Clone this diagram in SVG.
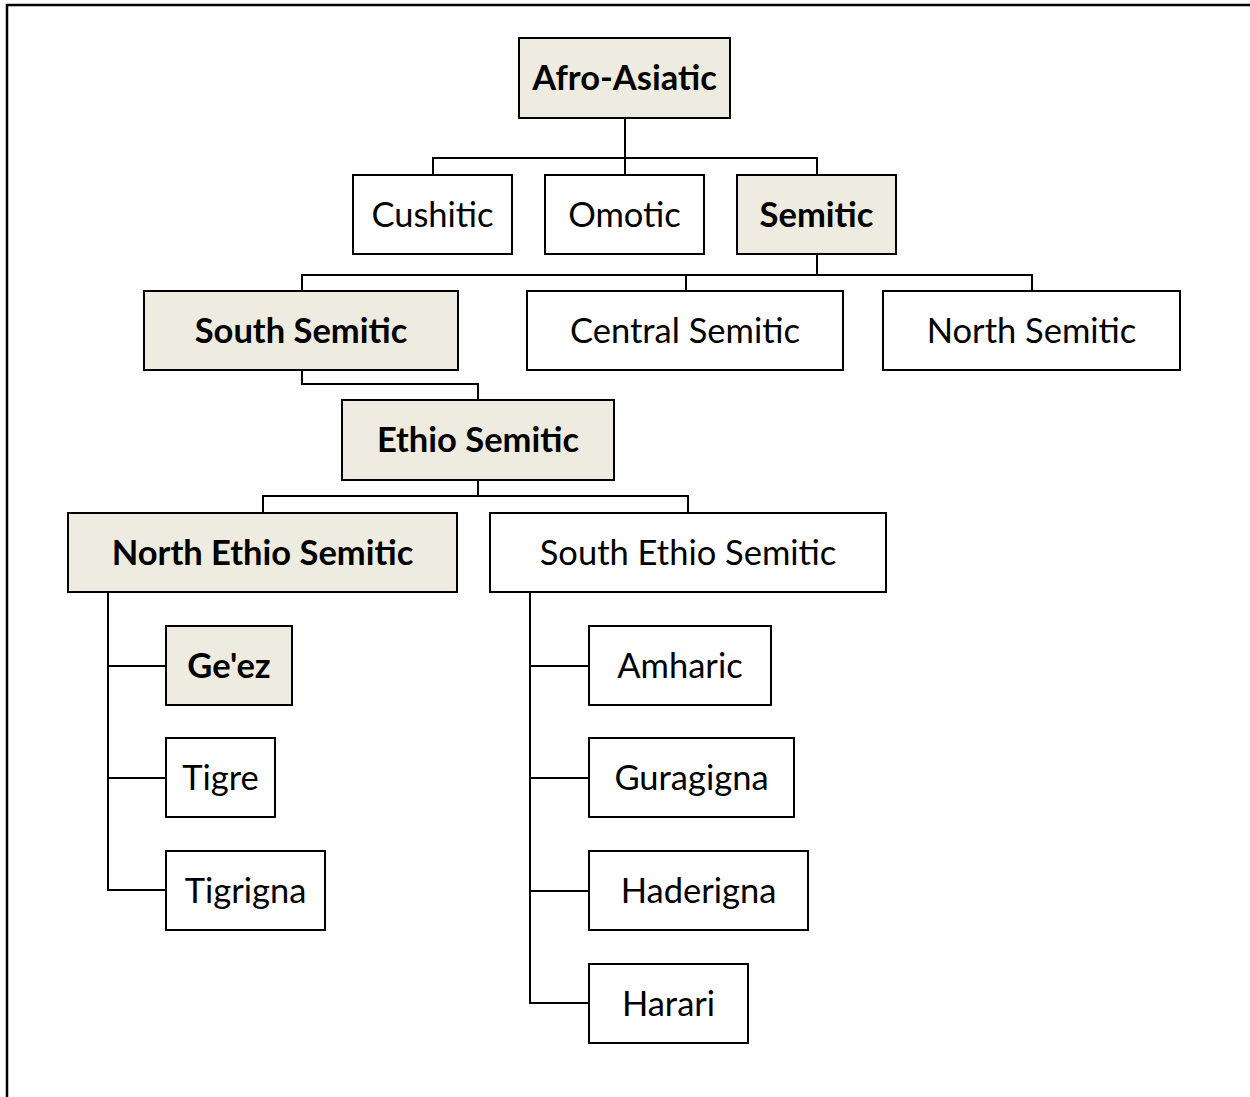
<svg xmlns="http://www.w3.org/2000/svg" width="1250" height="1097" viewBox="0 0 1250 1097">
<style>
.box{fill:#ffffff;stroke:#000;stroke-width:2}
.hl{fill:#EEECE1;stroke:#000;stroke-width:2}
.t{font-family:Lato,"Liberation Sans",sans-serif;font-size:34.5px;fill:#000;text-anchor:middle}
.b{font-weight:bold}
.c{fill:none;stroke:#000;stroke-width:2}
</style>
<rect width="1250" height="1097" fill="#fff"/>
<path d="M7,1097 V5 H1250" fill="none" stroke="#000" stroke-width="2.5"/>
<g id="connectors">
<path class="c" d="M625,118 V158 M433,175 V158 H817 V175 M625,158 V175"/>
<path class="c" d="M817,254 V275 M302,291 V275 H1032 V291 M686,275 V291"/>
<path class="c" d="M302,370 V384 H478 V400"/>
<path class="c" d="M478,480 V496 M263,513 V496 H688 V513"/>
<path class="c" d="M108,592 V890 H166 M108,666 H166 M108,778 H166"/>
<path class="c" d="M530,592 V1003 H589 M530,666 H589 M530,778 H589 M530,891 H589"/>
</g>
<g id="afro-asiatic"><rect class="hl" x="519" y="38" width="211" height="80"/><text class="t b" x="624.5" y="89.5">Afro-Asiatic</text></g>
<g id="cushitic"><rect class="box" x="353" y="175" width="159" height="79"/><text class="t" x="432.5" y="226.5">Cushitic</text></g>
<g id="omotic"><rect class="box" x="545" y="175" width="159" height="79"/><text class="t" x="624.5" y="226.5">Omotic</text></g>
<g id="semitic"><rect class="hl" x="737" y="175" width="159" height="79"/><text class="t b" x="816.5" y="226.5">Semitic</text></g>
<g id="south-semitic"><rect class="hl" x="144" y="291" width="314" height="79"/><text class="t b" x="301" y="342.5">South Semitic</text></g>
<g id="central-semitic"><rect class="box" x="527" y="291" width="316" height="79"/><text class="t" x="685" y="342.5">Central Semitic</text></g>
<g id="north-semitic"><rect class="box" x="883" y="291" width="297" height="79"/><text class="t" x="1031.5" y="342.5">North Semitic</text></g>
<g id="ethio-semitic"><rect class="hl" x="342" y="400" width="272" height="80"/><text class="t b" x="478" y="451.5">Ethio Semitic</text></g>
<g id="north-ethio-semitic"><rect class="hl" x="68" y="513" width="389" height="79"/><text class="t b" x="262.5" y="564.5">North Ethio Semitic</text></g>
<g id="south-ethio-semitic"><rect class="box" x="490" y="513" width="396" height="79"/><text class="t" x="688" y="564.5">South Ethio Semitic</text></g>
<g id="geez"><rect class="hl" x="166" y="626" width="126" height="79"/><text class="t b" x="229" y="677.5">Ge'ez</text></g>
<g id="tigre"><rect class="box" x="166" y="738" width="109" height="79"/><text class="t" x="220.5" y="789.5">Tigre</text></g>
<g id="tigrigna"><rect class="box" x="166" y="851" width="159" height="79"/><text class="t" x="245.5" y="902.5">Tigrigna</text></g>
<g id="amharic"><rect class="box" x="589" y="626" width="182" height="79"/><text class="t" x="680" y="677.5">Amharic</text></g>
<g id="guragigna"><rect class="box" x="589" y="738" width="205" height="79"/><text class="t" x="691.5" y="789.5">Guragigna</text></g>
<g id="haderigna"><rect class="box" x="589" y="851" width="219" height="79"/><text class="t" x="698.5" y="902.5">Haderigna</text></g>
<g id="harari"><rect class="box" x="589" y="964" width="159" height="79"/><text class="t" x="668.5" y="1015.5">Harari</text></g>
</svg>
